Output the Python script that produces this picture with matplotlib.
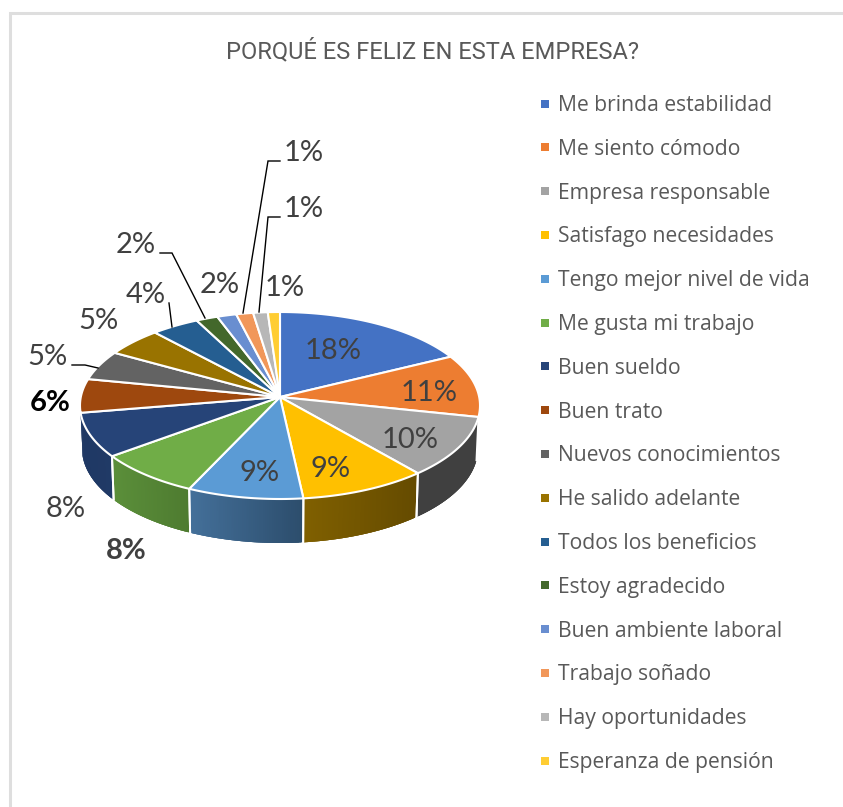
import numpy as np
import matplotlib
matplotlib.use("Agg")
import matplotlib.pyplot as plt
from matplotlib.patches import Polygon
from matplotlib.lines import Line2D
from matplotlib.colors import to_rgb

categories = ["Me brinda estabilidad", "Me siento cómodo", "Empresa responsable",
              "Satisfago necesidades", "Tengo mejor nivel de vida", "Me gusta mi trabajo",
              "Buen sueldo", "Buen trato", "Nuevos conocimientos", "He salido adelante",
              "Todos los beneficios", "Estoy agradecido", "Buen ambiente laboral",
              "Trabajo soñado", "Hay oportunidades", "Esperanza de pensión"]
values = [17.6, 10.8, 10.4, 9.4, 9.0, 8.2, 7.8, 5.8, 5.0, 4.8, 4.0, 1.8, 1.6, 1.4, 1.2, 1.0]
pct_labels = ["18%", "11%", "10%", "9%", "9%", "8%", "8%", "6%", "5%", "5%", "4%", "2%", "2%", "1%", "1%", "1%"]
colors = ["#4472C4", "#ED7D31", "#A3A3A3", "#FFC000", "#5B9BD5", "#70AD47", "#264478", "#9E480E",
          "#636363", "#997300", "#255E91", "#43682B", "#698ED0", "#F1975A", "#B7B7B7", "#FFCD33"]
wall_colors = {2: ("#404040", "#404040"), 3: ("#806000", "#654b00"), 4: ("#44709a", "#2c4d6c"),
               5: ("#5b8f3a", "#4e7b30"), 6: ("#1f3864", "#203a66")}
label_pos = [(333, 351), (429, 393), (410, 440), (331, 469), (260, 473), (126, 551), (66, 509),
             (50, 403), (47, 357), (98, 321), (146, 295), (136, 245), (220, 285), (304, 153),
             (304, 209), (285, 288)]
bold_idx = {5, 7}
leaders = {8: [(72, 365), (85, 365), (98, 368)], 10: [(169, 303), (172, 327)],
           11: [(160, 253), (172, 253), (205, 318)], 13: [(280, 161), (268, 161), (243, 313)],
           14: [(280, 217), (268, 217), (259, 312)]}

W, H = 843, 807
CX, APEX_Y, TOP_Y, RX, RY = 280.0, 397.0, 405.5, 200.0, 93.5
BOT_Y, BOT_RX, BOT_RY = 448.5, 198.0, 94.5

fig = plt.figure(figsize=(W / 100, H / 100), dpi=100, facecolor="white")
ax = fig.add_axes([0, 0, 1, 1])
ax.set_xlim(0, W)
ax.set_ylim(H, 0)
ax.axis("off")


def warp(t):
    """Perspective correction from true angle to rim parameter (degrees)."""
    s = np.sin(np.radians(t))
    return t - s * np.where(s > 0, 5.5, 1.5)


def rim(t, cy=TOP_Y, rx=RX, ry=RY):
    th = np.radians(warp(np.asarray(t, float)))
    return np.column_stack([CX + rx * np.sin(th), cy - ry * np.cos(th)])


edges = np.concatenate([[0], np.cumsum(values)]) / np.sum(values) * 360

# frame (left and top only)
ax.plot([10, 10, W], [H, 13, 13], color="#dedede", lw=2.2, solid_joinstyle="miter", zorder=0)

# walls: overlapping strips give a smooth horizontal gradient without seams
N = 60
for i, (cl, cr) in wall_colors.items():
    ts = np.linspace(edges[i], edges[i + 1], N + 1)
    top, bot = rim(ts), rim(ts, BOT_Y, BOT_RX, BOT_RY)
    xs = top[:, 0]
    lo, hi = xs.min(), xs.max()
    for j in range(N):
        k = min(j + 3, N)
        f = (0.5 * (xs[j] + xs[j + 1]) - lo) / max(hi - lo, 1)
        c = tuple((1 - f) * np.array(to_rgb(cl)) + f * np.array(to_rgb(cr)))
        ax.add_patch(Polygon(np.vstack([top[j:k + 1], bot[j:k + 1][::-1]]), closed=True,
                             facecolor=c, edgecolor="none", zorder=1))
    for t in (edges[i], edges[i + 1]):
        if 97 < warp(t) < 262:
            p, q = rim([t])[0], rim([t], BOT_Y, BOT_RX, BOT_RY)[0]
            ax.plot([p[0], q[0]], [p[1], q[1]], color="white", lw=1.4, zorder=2)

# top face
for i, c in enumerate(colors):
    ts = np.linspace(edges[i], edges[i + 1], 60)
    ax.add_patch(Polygon(np.vstack([[CX, APEX_Y], rim(ts)]), closed=True, facecolor=c,
                         edgecolor="white", lw=1.5, joinstyle="round", zorder=3))

# leader lines
for pts in leaders.values():
    a = np.array(pts)
    ax.plot(a[:, 0], a[:, 1], color="black", lw=1.0, zorder=4, solid_joinstyle="miter")

# data labels
for i, (txt, (x, y)) in enumerate(zip(pct_labels, label_pos)):
    ax.text(x, y, txt, ha="center", va="center", fontsize=21, family="Lato",
            color="black" if i == 7 else "#404040",
            fontweight="bold" if i in bold_idx else "normal", zorder=5)

ax.text(432, 51, "PORQUÉ ES FELIZ EN ESTA EMPRESA?", ha="center", va="center", fontsize=17.0,
        family="Roboto", color="#595959")

handles = [Line2D([], [], linestyle="none", marker="s", markersize=6.2, color=c, markeredgewidth=0)
           for c in colors]
ax.legend(handles, categories, loc="upper left", bbox_to_anchor=(538 / W, 1 - 95 / H),
          frameon=False, handlelength=0.66, handletextpad=0.31, borderpad=0, borderaxespad=0,
          labelspacing=1.08, labelcolor="#595959",
          prop={"family": "Open Sans", "size": 15.2})

fig.savefig("out.png", dpi=100)
